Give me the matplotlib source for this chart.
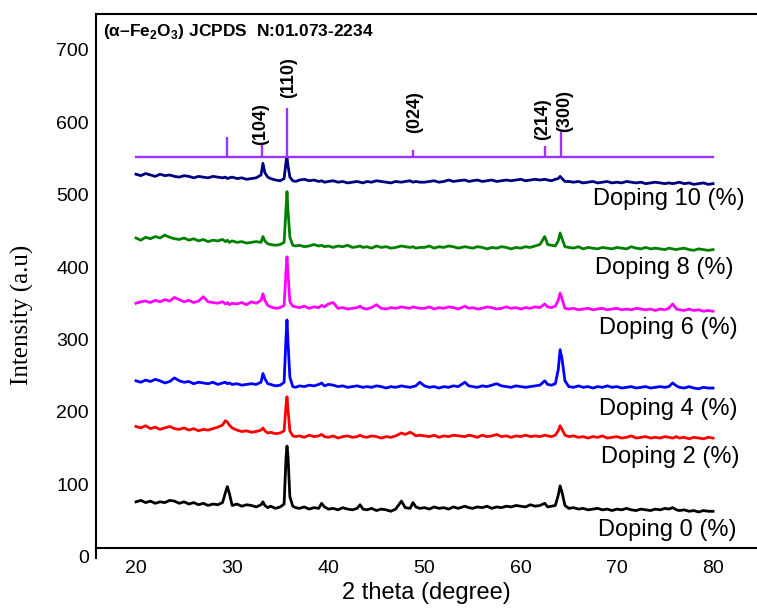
import matplotlib
matplotlib.use('Agg')
import matplotlib.pyplot as plt

plt.rcParams['font.family'] = ['Liberation Sans', 'DejaVu Sans']
plt.rcParams['mathtext.fontset'] = 'custom'
plt.rcParams['mathtext.rm'] = 'Liberation Sans'
plt.rcParams['mathtext.bf'] = 'Liberation Sans:bold'

# 2 theta grid (denser around the peaks)
two_theta = [
    20.0, 20.5, 21.0, 21.5, 22.0, 22.5, 23.0, 23.5, 24.0, 24.5, 25.0, 25.5, 26.0, 26.5, 27.0, 27.5, 28.0, 28.5, 29.0,
    29.3, 29.5, 29.7, 30.0, 30.5, 31.0, 31.5, 32.0, 32.5, 33.0,
    33.2, 33.4, 33.7, 34.0, 34.5, 35.0, 35.4, 35.6, 35.7, 35.8, 36.0, 36.3, 36.6,
    37.0, 37.5, 38.0, 38.5, 39.0, 39.3, 39.6, 40.0, 40.5, 41.0, 41.5, 42.0, 42.5, 43.0, 43.3, 43.6,
    44.0, 44.5, 45.0, 45.5, 46.0, 46.5, 47.0, 47.6, 48.0, 48.5, 48.8, 49.1, 49.5,
    50.0, 50.5, 51.0, 51.5, 52.0, 52.5, 53.0, 53.5, 54.2, 54.6,
    55.0, 55.5, 56.0, 56.5, 57.0, 57.5, 58.0, 58.5, 59.0, 59.5, 60.0, 60.5, 61.0, 61.5, 62.0,
    62.5, 62.8, 63.2, 63.6, 63.9, 64.1, 64.3, 64.6,
    65.0, 65.5, 66.0, 66.5, 67.0, 67.5, 68.0, 68.5, 69.0, 69.5, 70.0, 70.5, 71.0, 71.5, 72.0, 72.5, 73.0, 73.5, 74.0, 74.5, 75.0,
    75.4, 75.8, 76.2, 76.5, 77.0, 77.5, 78.0, 78.5, 79.0, 79.5, 80.0,
]

doping_0 = [
    76, 78, 75, 77, 74, 76, 75, 78, 77, 74, 76, 73, 75, 72, 74, 71, 73, 72, 75,
    89, 97, 88, 71, 73, 70, 72, 71, 69, 72,
    76, 71, 68, 70, 67, 69, 73, 137, 153, 140, 83, 70, 68,
    67, 69, 66, 68, 67, 74, 69, 66, 67, 65, 68, 66, 65, 67, 72, 66,
    65, 67, 64, 66, 65, 63, 66, 77, 68, 67, 75, 69, 67,
    68, 66, 69, 67, 68, 66, 69, 67, 70, 68,
    67, 69, 68, 70, 67, 69, 68, 70, 69, 71, 70, 69, 72, 70, 71,
    74, 69, 70, 71, 85, 98, 89, 71,
    67, 68, 66, 67, 65, 66, 67, 65, 66, 64, 66, 65, 67, 65, 64, 66, 65, 64, 66, 65, 67,
    66, 68, 65, 64, 65, 63, 64, 62, 64, 63, 63,
]
doping_2 = [
    180, 178, 181, 177, 179, 176, 178, 180, 177, 176, 178, 175, 177, 174, 176, 175, 177, 179, 182,
    188, 186, 182, 178, 175, 173, 174, 172, 173, 175,
    178, 174, 171, 172, 170, 171, 174, 209, 221, 204, 174, 167, 166,
    167, 165, 168, 166, 167, 169, 166, 165, 167, 164, 166, 167, 165, 166, 168, 166,
    165, 167, 166, 164, 166, 165, 167, 171, 169, 172, 170, 167, 168,
    167, 166, 168, 165, 167, 166, 168, 167, 166, 168,
    167, 165, 168, 166, 167, 169, 166, 167, 165, 167, 166, 168, 166, 167, 166,
    168, 167, 166, 168, 174, 181, 176, 168,
    166, 167, 165, 166, 164, 166, 165, 167, 164, 165, 166, 164, 165, 167, 164, 165, 166, 164, 165, 164, 166,
    165, 164, 166, 164, 165, 163, 165, 164, 163, 165, 164,
]
doping_4 = [
    243, 241, 244, 242, 245, 243, 240, 242, 247, 243, 241, 242, 239, 241, 240, 239, 241, 238, 240,
    241, 239, 240, 238, 239, 237, 238, 239, 238, 241,
    253, 246, 239, 238, 236, 237, 241, 303, 327, 298, 248, 235, 234,
    236, 235, 237, 236, 238, 240, 236, 238, 237, 235, 236, 234, 235, 236, 235, 234,
    235, 234, 236, 235, 233, 235, 234, 236, 235, 234, 235, 236, 241,
    236, 234, 235, 233, 235, 234, 236, 235, 241, 236,
    235, 234, 236, 235, 237, 239, 236, 235, 234, 236, 235, 234, 235, 236, 237,
    243, 238, 237, 239, 258, 286, 273, 243,
    235, 234, 236, 234, 235, 233, 235, 234, 236, 234, 235, 233, 234, 235, 233, 234, 235, 233, 234, 235, 234,
    235, 240, 236, 234, 233, 235, 233, 232, 234, 233, 233,
]
doping_6 = [
    350, 352, 353, 351, 354, 352, 355, 353, 358, 355, 352, 354, 351, 353, 359, 352, 351, 350, 352,
    349, 351, 348, 350, 349, 351, 348, 352, 350, 354,
    363, 354, 347, 345, 343, 344, 347, 394, 414, 392, 352, 346, 345,
    344, 346, 343, 345, 344, 347, 345, 349, 351, 343, 344, 342, 343, 344, 346, 343,
    342, 344, 348, 343, 342, 344, 343, 345, 344, 343, 345, 344, 343,
    343, 345, 342, 344, 343, 345, 344, 342, 346, 343,
    344, 342, 343, 345, 344, 342, 343, 345, 343, 344, 342, 344, 343, 345, 344,
    349, 345, 344, 346, 354, 364, 356, 343,
    342, 343, 341, 342, 343, 341, 342, 343, 341, 342, 343, 341, 342, 341, 343, 342, 341, 342, 340, 342, 341,
    343, 349, 342, 341, 340, 342, 340, 341, 339, 340, 339,
]
doping_8 = [
    440, 437, 441, 439, 442, 440, 444, 441, 439, 438, 440, 437, 439, 436, 438, 435, 437, 436, 438,
    435, 437, 434, 436, 434, 435, 433, 434, 435, 434,
    442, 436, 432, 431, 430, 431, 434, 481, 504, 479, 441, 430, 429,
    430, 428, 429, 431, 429, 430, 428, 429, 427, 429, 428, 430, 427, 428, 429, 427,
    428, 426, 429, 427, 428, 426, 427, 429, 428, 427, 428, 426, 427,
    427, 429, 426, 428, 427, 429, 428, 426, 428, 427,
    426, 428, 427, 425, 427, 426, 428, 427, 425, 427, 426, 428, 427, 429, 431,
    442, 431, 430, 429, 436, 447, 439, 428,
    427, 426, 428, 425, 427, 426, 425, 427, 426, 425, 427, 426, 425, 428, 426, 425, 427, 425, 426, 425, 424,
    426, 425, 424, 425, 426, 424, 423, 425, 424, 423, 424,
]
doping_10 = [
    528, 526, 529, 527, 525, 528, 526, 527, 525, 524, 526, 525, 523, 525, 524, 523, 525, 524, 523,
    524, 522, 523, 524, 522, 523, 521, 522, 523, 527,
    543, 530, 524, 522, 520, 519, 522, 545, 552, 540, 524, 519, 518,
    520, 521, 519, 520, 518, 519, 517, 518, 519, 517, 518, 516, 517, 518, 517, 516,
    518, 517, 519, 518, 517, 516, 518, 517, 518, 519, 517, 518, 517,
    517, 518, 519, 517, 518, 520, 518, 519, 520, 518,
    519, 520, 518, 519, 520, 518, 519, 520, 519, 520, 521, 519, 520, 521, 520,
    521, 520, 519, 521, 522, 525, 522, 518,
    518, 517, 518, 516, 517, 518, 516, 517, 518, 516, 517, 516, 518, 517, 516, 517, 515, 516, 517, 516, 515,
    516, 515, 516, 517, 515, 516, 514, 515, 516, 514, 515,
]

series = [doping_0, doping_2, doping_4, doping_6, doping_8, doping_10]
cores = ['black', '#ff0000', '#0000ff', '#ff00ff', '#008000', '#000080']
rotulos = ['Doping 0 (%)', 'Doping 2 (%)', 'Doping 4 (%)', 'Doping 6 (%)', 'Doping 8 (%)', 'Doping 10 (%)']
rotulo_x = [75.2, 75.6, 75.3, 75.3, 74.9, 75.4]
rotulo_y = [37, 138, 204, 316, 399, 494]

# JCPDS 01-073-2234 reference pattern (alpha-Fe2O3)
ref_base = 552
ref_pos = [29.5, 33.1, 35.7, 48.8, 62.5, 64.2]
ref_top = [579, 570, 619, 561, 567, 586]
hkl = ['(104)', '(110)', '(024)', '(214)', '(300)']
hkl_x = [33.0, 35.9, 49.0, 62.3, 64.6]
hkl_y = [568, 633, 585, 575, 586]

fig = plt.figure(figsize=(7.57, 6.10), dpi=100)
ax = fig.add_axes([0.1268, 0.0852, 0.8732, 0.8918])

for ys, cor in zip(series, cores):
    ax.plot(two_theta, ys, color=cor, linewidth=2.0)

for tx, ty, txt in zip(rotulo_x, rotulo_y, rotulos):
    ax.text(tx, ty, txt, fontsize=17, ha='center', va='center')

cor_ref = '#9933ff'
ax.plot([20, 80], [ref_base, ref_base], color=cor_ref, linewidth=1.7)
ax.vlines(ref_pos, ref_base, ref_top, color=cor_ref, linewidth=1.7)
for tx, ty, txt in zip(hkl_x, hkl_y, hkl):
    ax.text(tx, ty, txt, rotation=90, fontsize=13, fontweight='bold', ha='center', va='bottom')

ax.text(0.0106, 0.967, r'($\mathbf{\alpha}$–Fe$_\mathbf{2}$O$_\mathbf{3}$) JCPDS  N:01.073-2234',
        transform=ax.transAxes, fontsize=12.5, fontweight='bold', ha='left', va='center')

ax.set_xlim(15.84, 84.57)
ax.set_ylim(-1.5, 749)
ax.set_xticks([20, 30, 40, 50, 60, 70, 80])
ax.set_yticks([0, 100, 200, 300, 400, 500, 600, 700])
ax.tick_params(axis='both', length=0, labelsize=14)
ax.tick_params(axis='x', pad=9)
ax.tick_params(axis='y', pad=5)

ax.spines['right'].set_visible(False)
ax.spines['bottom'].set_position(('data', 12.4))
for lado in ['left', 'top', 'bottom']:
    ax.spines[lado].set_linewidth(1.5)

ax.set_xlabel('2 theta (degree)', fontsize=17, labelpad=3)
ax.set_ylabel('Intensity (a.u)', fontsize=18, family='Liberation Serif')
ax.yaxis.set_label_coords(-0.094, 0.447)

fig.savefig('out.png', dpi=100)
